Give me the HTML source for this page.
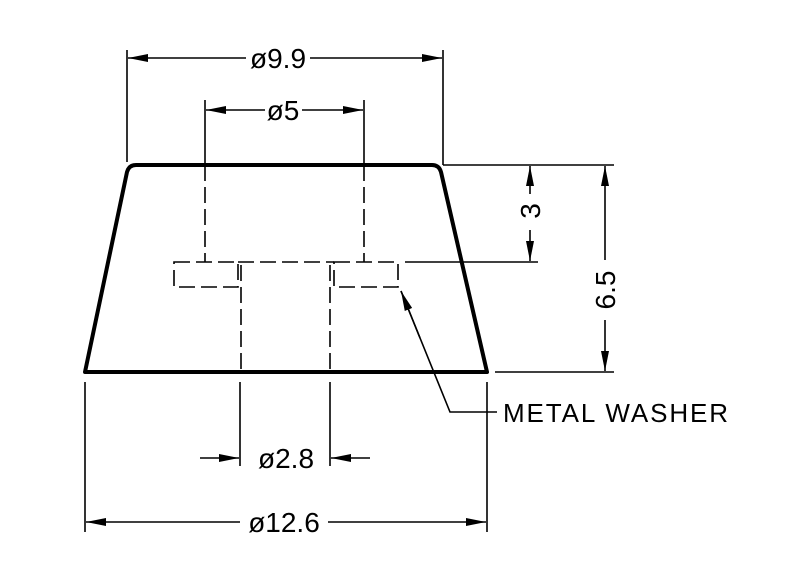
<!DOCTYPE html>
<html><head><style>body{margin:0;background:#fff}svg{display:block}</style></head><body>
<svg width="800" height="576" viewBox="0 0 800 576" xmlns="http://www.w3.org/2000/svg">
<defs>
<marker id="a" viewBox="0 0 20 8" refX="20" refY="4" markerWidth="20" markerHeight="8" markerUnits="userSpaceOnUse" orient="auto"><path d="M0,0L20,4L0,8z" fill="#000"/></marker>
</defs>
<g fill="none" stroke="#000">
<path d="M85,372 L127,172 Q129,165 136,165 L432,165 Q439,165 441,172 L487,372 Z" stroke-width="4" stroke-linejoin="round"/>
<g stroke-width="1.6">
<line x1="127" y1="50" x2="127" y2="162"/><line x1="443" y1="50" x2="443" y2="165"/>
<line x1="246" y1="58" x2="128" y2="58" marker-end="url(#a)"/>
<line x1="310" y1="58" x2="442" y2="58" marker-end="url(#a)"/>
<line x1="205" y1="100" x2="205" y2="165"/><line x1="364" y1="100" x2="364" y2="165"/>
<line x1="265" y1="110" x2="206" y2="110" marker-end="url(#a)"/>
<line x1="302" y1="110" x2="363" y2="110" marker-end="url(#a)"/>
<line x1="443" y1="165" x2="614" y2="165"/><line x1="405" y1="262" x2="538" y2="262"/>
<line x1="495" y1="372" x2="614" y2="372"/>
<line x1="530" y1="194" x2="530" y2="166" marker-end="url(#a)"/>
<line x1="530" y1="230" x2="530" y2="261" marker-end="url(#a)"/>
<line x1="605" y1="260" x2="605" y2="166" marker-end="url(#a)"/>
<line x1="605" y1="320" x2="605" y2="371" marker-end="url(#a)"/>
<line x1="240" y1="382" x2="240" y2="466"/><line x1="330" y1="382" x2="330" y2="466"/>
<line x1="200" y1="458" x2="239" y2="458" marker-end="url(#a)"/>
<line x1="370" y1="458" x2="331" y2="458" marker-end="url(#a)"/>
<line x1="85" y1="382" x2="85" y2="532"/><line x1="487" y1="382" x2="487" y2="532"/>
<line x1="240" y1="522" x2="86" y2="522" marker-end="url(#a)"/>
<line x1="328" y1="522" x2="486" y2="522" marker-end="url(#a)"/>
<polyline points="497,412 450,412 401,291" />
<line x1="420" y1="338" x2="401" y2="291" marker-end="url(#a)"/>
</g>
<g stroke-width="1.6" stroke-dasharray="16,6">
<line x1="205" y1="165" x2="205" y2="262"/><line x1="364" y1="165" x2="364" y2="262"/>
<rect x="174" y="262" width="64" height="25"/><rect x="334" y="262" width="64" height="25"/>
<line x1="238" y1="262" x2="334" y2="262"/>
<line x1="241" y1="265" x2="241" y2="372"/><line x1="330" y1="265" x2="330" y2="372"/>
</g>
</g>
<g font-family="Liberation Sans, sans-serif" font-size="28" fill="#000">
<text x="278" y="68" text-anchor="middle">ø9.9</text>
<text x="283" y="120" text-anchor="middle">ø5</text>
<text x="286" y="468" text-anchor="middle">ø2.8</text>
<text x="284" y="532" text-anchor="middle">ø12.6</text>
<text x="503" y="422" font-size="26" textLength="225" lengthAdjust="spacing">METAL  WASHER</text>
<text transform="translate(540,211) rotate(-90)" text-anchor="middle">3</text>
<text transform="translate(615,290) rotate(-90)" text-anchor="middle">6.5</text>
</g>
</svg>
</body></html>
